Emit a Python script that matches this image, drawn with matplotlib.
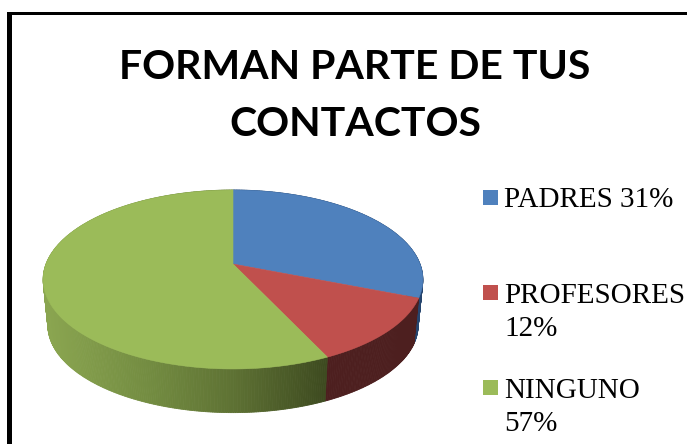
import numpy as np
import matplotlib
matplotlib.use('Agg')
import matplotlib.pyplot as plt
from matplotlib.patches import Polygon, Rectangle

# datos
categorias = ['PADRES', 'PROFESORES', 'NINGUNO']
valores = [31, 12, 57]
saltos = [' ', '\n', '\n']
colores = ['#4f81bd', '#c0504d', '#9bbb59']
titulo = 'FORMAN PARTE DE TUS\nCONTACTOS'

W, H = 687, 444
fig = plt.figure(figsize=(W / 100, H / 100), dpi=100)
ax = fig.add_axes([0, 0, 1, 1])
ax.set_xlim(0, W)
ax.set_ylim(H, 0)
ax.axis('off')

# marco negro (solo arriba e izquierda)
ax.add_patch(Rectangle((7, 12), W - 7, 3, fc='black', ec='none'))
ax.add_patch(Rectangle((7, 12), 5, H - 12, fc='black', ec='none'))

ax.text(355, 135.5, titulo, ha='center', va='baseline', family='Lato', weight='bold',
        fontsize=29.5, color='black', linespacing=1.66)

# proyeccion en perspectiva del disco
cx, cy = 233, 264
A, B, c = 187, 86.8, 0.173
esc, prof = 0.975, 46.3


def rim(frac):
    t = 2 * np.pi * np.asarray(frac)
    X, Y = np.sin(t), np.cos(t)
    d = 1 + c * Y
    return cx + A * X / d, cy - B * Y / d


def lado_color(i, x):
    # degradado del lateral segun x
    if i == 0:
        return (0.15, 0.27, 0.43)
    if i == 1:
        return (0.30, 0.12, 0.12)
    xs = [48, 150, 230, 325]
    r = np.interp(x, xs, [138, 115, 95, 62]) / 255
    g = np.interp(x, xs, [165, 140, 115, 75]) / 255
    b = np.interp(x, xs, [80, 65, 52, 32]) / 255
    return (r, g, b)


fr = np.cumsum([0] + valores) / sum(valores)

# lateral
quads = []
for i in range(len(valores)):
    ts = np.linspace(fr[i], fr[i + 1], int(valores[i] * 6) + 2)
    xs, ys = rim(ts)
    xb = cx + (xs - cx) * esc
    yb = cy + (ys - cy) * esc + prof
    for j in range(len(ts) - 1):
        q = [(xs[j], ys[j]), (xs[j + 1], ys[j + 1]), (xb[j + 1], yb[j + 1]), (xb[j], yb[j])]
        quads.append((ys[j], q, lado_color(i, (xs[j] + xs[j + 1]) / 2)))
quads.sort(key=lambda a: a[0])
for _, q, col in quads:
    ax.add_patch(Polygon(q, fc=col, ec=col, lw=0.6, zorder=2))

# cara superior
for i in range(len(valores)):
    ts = np.linspace(fr[i], fr[i + 1], 200)
    xs, ys = rim(ts)
    pts = [(cx, cy)] + list(zip(xs, ys))
    ax.add_patch(Polygon(pts, fc=colores[i], ec=colores[i], lw=0.4, zorder=3))

# leyenda
y_ley = [190, 285, 380]
for i in range(len(categorias)):
    ax.add_patch(Rectangle((483, y_ley[i]), 15, 15, fc=colores[i], ec='none'))
    # baseline = ultima linea del texto
    y_txt = y_ley[i] + (17 if saltos[i] == ' ' else 51)
    ax.text(504.5, y_txt, categorias[i] + saltos[i] + str(valores[i]) + '%',
            ha='left', va='baseline', family='Liberation Serif',
            fontsize=21, color='black', linespacing=1.34)

fig.savefig('out.png', dpi=100)
